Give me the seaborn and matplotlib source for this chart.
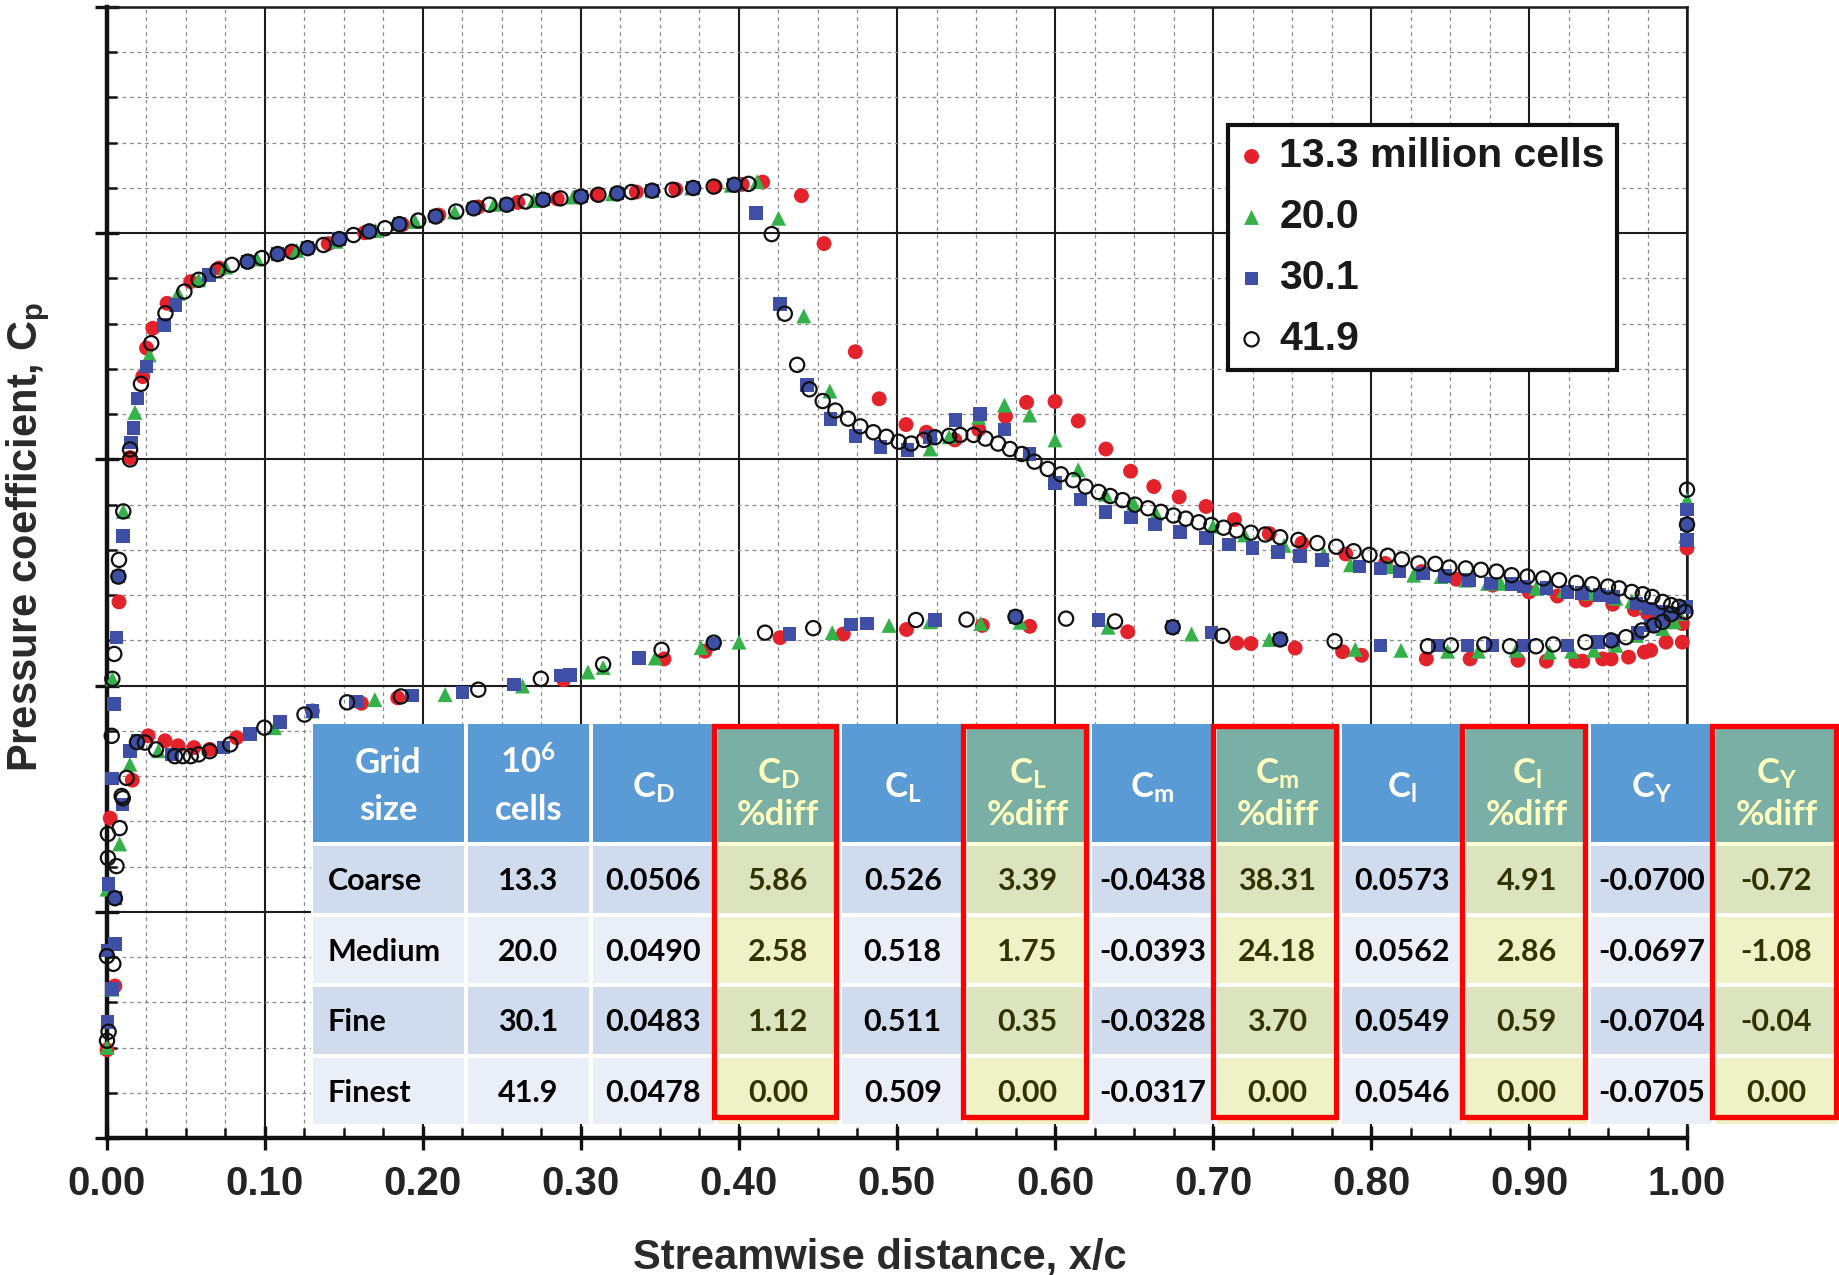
import numpy as np
import pandas as pd
import matplotlib
matplotlib.use("Agg")
import matplotlib.pyplot as plt
from matplotlib.patches import Rectangle
from matplotlib.ticker import MultipleLocator, FormatStrFormatter
import seaborn as sns

# ---------------------------------------------------------------------------
# Surface pressure distributions, (x/c, Cp) pairs for each grid
# ---------------------------------------------------------------------------
upper_133 = [
    (0.0, 0.805), (0.005, 0.664), (0.0076, -0.185), (0.0146, -0.504),
    (0.0226, -0.683), (0.025, -0.746), (0.029, -0.790), (0.038, -0.845),
    (0.053, -0.893), (0.071, -0.923), (0.090, -0.938), (0.117, -0.959),
    (0.140, -0.977), (0.163, -1.001), (0.187, -1.019), (0.210, -1.040),
    (0.235, -1.058), (0.260, -1.068), (0.285, -1.076), (0.310, -1.085),
    (0.335, -1.091), (0.360, -1.097), (0.385, -1.103), (0.402, -1.108),
    (0.415, -1.113), (0.4395, -1.083), (0.4538, -0.977), (0.4736, -0.738),
    (0.4887, -0.634), (0.5057, -0.577), (0.5186, -0.560), (0.5366, -0.543),
    (0.5517, -0.566), (0.5687, -0.595), (0.582, -0.626), (0.600, -0.628),
    (0.6147, -0.585), (0.6322, -0.523), (0.6478, -0.474), (0.6625, -0.440),
    (0.6786, -0.417), (0.6956, -0.396), (0.7136, -0.367), (0.7356, -0.336),
    (0.7563, -0.315), (0.784, -0.291), (0.809, -0.270), (0.832, -0.252),
    (0.854, -0.235), (0.877, -0.222), (0.900, -0.207), (0.918, -0.198),
    (0.936, -0.189), (0.953, -0.180), (0.9667, -0.168), (0.975, -0.159),
    (0.982, -0.156), (0.990, -0.141), (0.997, -0.137), (1.0, -0.304),
]
lower_133 = [
    (0.002, 0.293), (0.016, 0.209), (0.026, 0.111), (0.0367, 0.122),
    (0.045, 0.133), (0.055, 0.137), (0.065, 0.141), (0.082, 0.115),
    (0.130, 0.056), (0.161, 0.039), (0.184, 0.027), (0.289, -0.013),
    (0.3525, -0.059), (0.3785, -0.076), (0.426, -0.106), (0.466, -0.114),
    (0.506, -0.124), (0.554, -0.133), (0.584, -0.131), (0.646, -0.119),
    (0.715, -0.094), (0.724, -0.093), (0.752, -0.083), (0.782, -0.075),
    (0.794, -0.067), (0.835, -0.059), (0.8627, -0.059), (0.893, -0.056),
    (0.911, -0.054), (0.9297, -0.054), (0.934, -0.054), (0.9466, -0.059),
    (0.952, -0.059), (0.963, -0.063), (0.973, -0.074), (0.977, -0.078),
    (0.9867, -0.096), (0.997, -0.096),
]

upper_200 = [
    (0.0, 0.800), (0.0, 0.450), (0.003, 0.671), (0.0034, -0.015),
    (0.008, 0.350), (0.0103, -0.385), (0.0177, -0.604), (0.0268, -0.731),
    (0.045, -0.867), (0.058, -0.897), (0.075, -0.925), (0.095, -0.943),
    (0.120, -0.962), (0.145, -0.982), (0.170, -1.006), (0.195, -1.026),
    (0.220, -1.047), (0.245, -1.064), (0.270, -1.072), (0.295, -1.080),
    (0.320, -1.087), (0.345, -1.094), (0.370, -1.100), (0.395, -1.106),
    (0.4115, -1.114), (0.425, -1.033), (0.441, -0.817), (0.4575, -0.651),
    (0.521, -0.523), (0.533, -0.550), (0.5517, -0.593), (0.568, -0.620),
    (0.584, -0.598), (0.600, -0.543), (0.6147, -0.477), (0.632, -0.423),
    (0.6497, -0.403), (0.664, -0.380), (0.700, -0.352), (0.720, -0.333),
    (0.745, -0.310), (0.770, -0.290), (0.787, -0.267), (0.8116, -0.263),
    (0.827, -0.244), (0.8443, -0.241), (0.860, -0.233), (0.8738, -0.226),
    (0.882, -0.226), (0.9044, -0.215), (0.922, -0.210), (0.938, -0.204),
    (0.955, -0.193), (0.965, -0.187), (0.974, -0.178), (0.987, -0.159),
    (0.995, -0.159), (0.999, -0.330), (1.0, -0.411),
]
lower_200 = [
    (0.0145, 0.174), (0.0325, 0.144), (0.106, 0.093), (0.130, 0.056),
    (0.1695, 0.031), (0.214, 0.020), (0.263, 0.001), (0.3044, -0.030),
    (0.314, -0.040), (0.347, -0.061), (0.376, -0.084), (0.400, -0.096),
    (0.459, -0.117), (0.495, -0.133), (0.521, -0.141), (0.553, -0.137),
    (0.578, -0.140), (0.6336, -0.129), (0.6864, -0.114), (0.7356, -0.102),
    (0.790, -0.080), (0.819, -0.078), (0.8485, -0.076), (0.868, -0.076),
    (0.8918, -0.078), (0.9129, -0.074), (0.927, -0.076), (0.941, -0.078),
    (0.955, -0.089), (0.968, -0.111), (0.9846, -0.126), (0.992, -0.141),
]

upper_301 = [
    (0.0004, 0.743), (0.0004, 0.586), (0.001, 0.439), (0.003, 0.671),
    (0.005, 0.571), (0.005, 0.470), (0.0046, 0.041), (0.006, -0.106),
    (0.0072, -0.241), (0.0103, -0.331), (0.0152, -0.537), (0.0167, -0.570),
    (0.0194, -0.635), (0.025, -0.705), (0.036, -0.797), (0.0435, -0.841),
    (0.0645, -0.908), (0.089, -0.937), (0.108, -0.954), (0.127, -0.967),
    (0.147, -0.987), (0.166, -1.004), (0.185, -1.020), (0.208, -1.037),
    (0.232, -1.055), (0.253, -1.063), (0.276, -1.074), (0.300, -1.081),
    (0.323, -1.088), (0.345, -1.094), (0.371, -1.100), (0.397, -1.107),
    (0.4106, -1.045), (0.426, -0.844), (0.443, -0.665), (0.458, -0.589),
    (0.4736, -0.552), (0.4897, -0.527), (0.5067, -0.521), (0.521, -0.550),
    (0.537, -0.587), (0.5526, -0.600), (0.568, -0.566), (0.584, -0.512),
    (0.600, -0.448), (0.616, -0.411), (0.632, -0.384), (0.648, -0.372),
    (0.6634, -0.356), (0.679, -0.340), (0.6956, -0.326), (0.710, -0.312),
    (0.725, -0.304), (0.741, -0.295), (0.755, -0.287), (0.769, -0.278),
    (0.7926, -0.263), (0.806, -0.259), (0.818, -0.252), (0.833, -0.248),
    (0.847, -0.242), (0.862, -0.233), (0.876, -0.226), (0.889, -0.224),
    (0.897, -0.219), (0.911, -0.216), (0.9245, -0.207), (0.9335, -0.205),
    (0.9445, -0.200), (0.953, -0.196), (0.968, -0.181), (0.976, -0.170),
    (0.9846, -0.163), (0.992, -0.159), (0.9994, -0.174), (1.0, -0.389),
    (1.0, -0.356), (1.0, -0.322),
]
lower_301 = [
    (0.003, 0.205), (0.0097, 0.263), (0.0146, 0.144), (0.0194, 0.122),
    (0.041, 0.152), (0.0736, 0.137), (0.0905, 0.107), (0.1095, 0.081),
    (0.130, 0.056), (0.1575, 0.035), (0.193, 0.022), (0.225, 0.015),
    (0.2576, -0.002), (0.287, -0.022), (0.293, -0.024), (0.3367, -0.061),
    (0.384, -0.093), (0.432, -0.114), (0.471, -0.135), (0.481, -0.137),
    (0.524, -0.145), (0.575, -0.152), (0.6276, -0.145), (0.6745, -0.129),
    (0.699, -0.117), (0.7425, -0.102), (0.806, -0.089), (0.842, -0.089),
    (0.861, -0.089), (0.877, -0.089), (0.897, -0.089), (0.9245, -0.089),
    (0.9435, -0.096), (0.953, -0.100), (0.9688, -0.116), (0.977, -0.133),
    (0.9835, -0.144), (0.990, -0.159),
]

upper_419 = [
    (0.0, 0.785), (0.001, 0.765), (0.004, 0.615), (0.0, 0.598),
    (0.005, 0.470), (0.006, 0.399), (0.0006, 0.381), (0.0006, 0.328),
    (0.008, 0.315), (0.010, 0.249), (0.0093, 0.244), (0.0124, 0.204),
    (0.003, 0.111), (0.0034, -0.015), (0.0046, -0.070), (0.0072, -0.241),
    (0.0076, -0.278), (0.0103, -0.385), (0.0146, -0.500), (0.0146, -0.522),
    (0.0215, -0.667), (0.028, -0.757), (0.037, -0.823), (0.049, -0.871),
    (0.058, -0.897), (0.070, -0.918), (0.079, -0.930), (0.089, -0.937),
    (0.098, -0.945), (0.108, -0.954), (0.117, -0.959), (0.127, -0.967),
    (0.137, -0.974), (0.147, -0.987), (0.156, -0.996), (0.166, -1.004),
    (0.176, -1.011), (0.185, -1.020), (0.197, -1.028), (0.208, -1.037),
    (0.221, -1.048), (0.232, -1.055), (0.242, -1.063), (0.253, -1.063),
    (0.265, -1.070), (0.276, -1.074), (0.287, -1.077), (0.300, -1.081),
    (0.311, -1.085), (0.323, -1.088), (0.332, -1.091), (0.345, -1.094),
    (0.358, -1.096), (0.371, -1.100), (0.384, -1.103), (0.397, -1.107),
    (0.406, -1.109), (0.4207, -0.998), (0.429, -0.822), (0.4368, -0.709),
    (0.4446, -0.655), (0.453, -0.629), (0.461, -0.608), (0.469, -0.590),
    (0.4768, -0.573), (0.485, -0.560), (0.4933, -0.550), (0.501, -0.539),
    (0.509, -0.535), (0.517, -0.543), (0.524, -0.549), (0.533, -0.552),
    (0.540, -0.554), (0.5485, -0.554), (0.556, -0.546), (0.564, -0.535),
    (0.5715, -0.523), (0.579, -0.512), (0.587, -0.495), (0.5954, -0.479),
    (0.6037, -0.467), (0.6115, -0.454), (0.6193, -0.440), (0.6276, -0.428),
    (0.635, -0.419), (0.6428, -0.410), (0.6506, -0.400), (0.6589, -0.392),
    (0.667, -0.384), (0.675, -0.376), (0.6828, -0.369), (0.691, -0.361),
    (0.699, -0.355), (0.7067, -0.349), (0.715, -0.343), (0.724, -0.338),
    (0.733, -0.334), (0.7425, -0.328), (0.754, -0.322), (0.766, -0.315),
    (0.778, -0.307), (0.789, -0.297), (0.799, -0.289), (0.8106, -0.287),
    (0.8196, -0.279), (0.830, -0.270), (0.8407, -0.269), (0.8496, -0.261),
    (0.860, -0.259), (0.8696, -0.256), (0.8795, -0.252), (0.889, -0.244),
    (0.899, -0.241), (0.909, -0.237), (0.919, -0.233), (0.930, -0.227),
    (0.940, -0.224), (0.950, -0.219), (0.957, -0.215), (0.965, -0.207),
    (0.972, -0.202), (0.978, -0.196), (0.9846, -0.185), (0.990, -0.178),
    (0.995, -0.174), (1.0, -0.433), (1.0, -0.356),
]
lower_419 = [
    (0.019, 0.125), (0.024, 0.126), (0.031, 0.141), (0.043, 0.156),
    (0.048, 0.156), (0.053, 0.156), (0.058, 0.152), (0.065, 0.145),
    (0.078, 0.130), (0.0996, 0.093), (0.125, 0.064), (0.152, 0.037),
    (0.186, 0.024), (0.235, 0.009), (0.2746, -0.015), (0.314, -0.047),
    (0.351, -0.079), (0.384, -0.095), (0.4165, -0.117), (0.447, -0.127),
    (0.512, -0.145), (0.544, -0.146), (0.575, -0.152), (0.607, -0.148),
    (0.638, -0.142), (0.6745, -0.129), (0.706, -0.110), (0.7425, -0.102),
    (0.777, -0.098), (0.836, -0.087), (0.8506, -0.089), (0.8717, -0.091),
    (0.888, -0.087), (0.9044, -0.087), (0.9154, -0.091), (0.9357, -0.096),
    (0.9519, -0.100), (0.9614, -0.107), (0.9715, -0.122), (0.979, -0.133),
    (0.9846, -0.141), (0.990, -0.158), (0.999, -0.163),
]

grid_labels = ["13.3 million cells", "20.0", "30.1", "41.9"]

# ---------------------------------------------------------------------------
# Force and moment coefficients for the grid study
# ---------------------------------------------------------------------------
grid_names = ["Coarse", "Medium", "Fine", "Finest"]
cells_million = [13.3, 20.0, 30.1, 41.9]
cd = [0.0506, 0.0490, 0.0483, 0.0478]
cd_diff = [5.86, 2.58, 1.12, 0.00]
cl = [0.526, 0.518, 0.511, 0.509]
cl_diff = [3.39, 1.75, 0.35, 0.00]
cm = [-0.0438, -0.0393, -0.0328, -0.0317]
cm_diff = [38.31, 24.18, 3.70, 0.00]
croll = [0.0573, 0.0562, 0.0549, 0.0546]
croll_diff = [4.91, 2.86, 0.59, 0.00]
cy = [-0.0700, -0.0697, -0.0704, -0.0705]
cy_diff = [-0.72, -1.08, -0.04, 0.00]

# ---------------------------------------------------------------------------
sns.set_theme(style="white")
plt.rcParams["font.family"] = ["Liberation Sans", "DejaVu Sans"]
plt.rcParams["font.weight"] = "bold"
plt.rcParams["axes.labelweight"] = "bold"
plt.rcParams["mathtext.fontset"] = "custom"
plt.rcParams["mathtext.rm"] = "Lato"
plt.rcParams["mathtext.bf"] = "Lato:bold"
plt.rcParams["mathtext.it"] = "Lato:italic"


def surface_frame(points, label):
    arr = np.asarray(points, dtype=float)
    return pd.DataFrame({"x": arr[:, 0], "Cp": arr[:, 1], "grid": label})


cp_data = pd.concat([
    surface_frame(upper_133 + lower_133, grid_labels[0]),
    surface_frame(upper_200 + lower_200, grid_labels[1]),
    surface_frame(upper_301 + lower_301, grid_labels[2]),
    surface_frame(upper_419 + lower_419, grid_labels[3]),
], ignore_index=True)

fig = plt.figure(figsize=(18.39, 12.75), dpi=100)
ax = fig.add_axes([0.05818, 0.10745, 0.85917, 0.88706])
ax.set_facecolor("white")

marker_styles = {
    grid_labels[0]: dict(marker="o", color="#E3222B", s=115, edgecolor="none", linewidth=0),
    grid_labels[1]: dict(marker="^", color="#34B149", s=115, edgecolor="none", linewidth=0),
    grid_labels[2]: dict(marker="s", color="#3F4FA5", s=95, edgecolor="none", linewidth=0),
    grid_labels[3]: dict(marker="o", facecolor="none", edgecolor="#111111", s=105, linewidth=1.6),
}

for label in grid_labels:
    sub = cp_data[cp_data["grid"] == label]
    sns.scatterplot(data=sub, x="x", y="Cp", ax=ax, label=label,
                    clip_on=False, zorder=3, **marker_styles[label])

ax.set_xlim(0.0, 1.0)
ax.set_ylim(1.0, -1.5)

ax.xaxis.set_major_locator(MultipleLocator(0.1))
ax.xaxis.set_minor_locator(MultipleLocator(0.025))
ax.yaxis.set_major_locator(MultipleLocator(0.5))
ax.yaxis.set_minor_locator(MultipleLocator(0.1))
ax.xaxis.set_major_formatter(FormatStrFormatter("%.2f"))

ax.set_axisbelow(True)
ax.grid(True, which="major", color="#1c1c1c", linewidth=1.5, linestyle="-")
ax.grid(True, which="minor", color="#8a8a8a", linewidth=0.9, linestyle=(0, (3, 3)))

ax.tick_params(axis="both", which="major", direction="inout", length=17,
               width=2.4, color="#111111", bottom=True, left=True,
               top=False, right=False)
ax.tick_params(axis="both", which="minor", direction="in", length=7,
               width=1.8, color="#111111", bottom=True, left=True,
               top=False, right=False)
ax.tick_params(axis="x", which="major", labelsize=29, pad=11, labelcolor="#242424")
ax.tick_params(axis="y", which="both", labelleft=False)

for side in ("left", "bottom"):
    ax.spines[side].set_linewidth(3.2)
    ax.spines[side].set_color("#111111")
for side in ("top", "right"):
    ax.spines[side].set_linewidth(1.8)
    ax.spines[side].set_color("#1c1c1c")

ax.set_xlabel("Streamwise distance, x/c", fontsize=30, fontweight="bold", color="#2a2a2a")
ax.set_ylabel(r"Pressure coefficient, C$_{\mathregular{p}}$", fontsize=30,
              fontweight="bold", color="#2a2a2a")
ax.xaxis.set_label_coords(0.489, -0.088)
ax.yaxis.set_label_coords(-0.0348, 0.531)

leg = ax.legend(loc="upper left", bbox_to_anchor=(0.7095, 0.8957),
                borderaxespad=0, frameon=True, fancybox=False, framealpha=1,
                edgecolor="#111111", prop={"size": 29.5, "weight": "bold"},
                handlelength=0.55, handletextpad=0.4, borderpad=0.3,
                labelspacing=0.56, markerscale=1.0)
leg.get_frame().set_linewidth(3.0)
for txt in leg.get_texts():
    txt.set_color("#1a1a1a")

# ---------------------------------------------------------------------------
# Grid-convergence table
# ---------------------------------------------------------------------------
tax = fig.add_axes([311 / 1839, 1 - 1124 / 1275, 1528 / 1839, 400 / 1275])
tax.set_xlim(0, 1528)
tax.set_ylim(400, 0)
tax.axis("off")

col_widths = [155] + [124.8] * 11
col_edges = np.concatenate([[0], np.cumsum(col_widths)])
header_h = 118
row_gap = 4
row_h = 66.5
row_tops = [header_h + row_gap + i * (row_h + row_gap) for i in range(4)]

header_blue = "#5B9BD5"
header_teal = "#79AFA5"
row_fill = ["#D0DBEE", "#E9EEF7"]
diff_fill = ["#DCE3BF", "#EFF2C6"]
diff_text = "#333300"
diff_head_text = "#FFFFC0"

tax.add_patch(Rectangle((0, 0), 1528, 400, facecolor="white", edgecolor="none", zorder=0))

body_font = dict(fontsize=22, fontweight="bold", family=["Lato", "DejaVu Sans"])
head_font = dict(fontsize=25, fontweight="bold", family=["Lato", "DejaVu Sans"])

columns = [
    ("Grid", "size", grid_names, None, False),
    (r"10$^{\mathbf{6}}$", "cells", cells_million, "{:.1f}", False),
    (None, r"C$_{\mathbf{D}}$", cd, "{:.4f}", False),
    (r"C$_{\mathbf{D}}$", "%diff", cd_diff, "{:.2f}", True),
    (None, r"C$_{\mathbf{L}}$", cl, "{:.3f}", False),
    (r"C$_{\mathbf{L}}$", "%diff", cl_diff, "{:.2f}", True),
    (None, r"C$_{\mathbf{m}}$", cm, "{:.4f}", False),
    (r"C$_{\mathbf{m}}$", "%diff", cm_diff, "{:.2f}", True),
    (None, r"C$_{\mathbf{l}}$", croll, "{:.4f}", False),
    (r"C$_{\mathbf{l}}$", "%diff", croll_diff, "{:.2f}", True),
    (None, r"C$_{\mathbf{Y}}$", cy, "{:.4f}", False),
    (r"C$_{\mathbf{Y}}$", "%diff", cy_diff, "{:.2f}", True),
]

for j, (line1, line2, values, fmt, is_diff) in enumerate(columns):
    x0, x1 = col_edges[j] + 2, col_edges[j + 1] - 2
    xc = 0.5 * (col_edges[j] + col_edges[j + 1])
    head_color = header_teal if is_diff else header_blue
    tcolor = diff_head_text if is_diff else "white"
    tax.add_patch(Rectangle((x0, 0), x1 - x0, header_h, facecolor=head_color,
                            edgecolor="none", zorder=1))
    if is_diff:
        tax.add_patch(Rectangle((x0, header_h), x1 - x0, row_gap,
                                facecolor="#FFFFD6", edgecolor="none", zorder=1))
        tax.text(xc, 60, line1, ha="center", va="baseline", color=tcolor, **head_font)
        tax.text(xc, 101, line2, ha="center", va="baseline", color=tcolor, **head_font)
    elif line1 is None:
        tax.text(xc, 74, line2, ha="center", va="baseline", color=tcolor, **head_font)
    else:
        tax.text(xc, 49, line1, ha="center", va="baseline", color=tcolor, **head_font)
        tax.text(xc, 96, line2, ha="center", va="baseline", color=tcolor, **head_font)

    for i, val in enumerate(values):
        top = row_tops[i]
        fill = diff_fill[i % 2] if is_diff else row_fill[i % 2]
        tax.add_patch(Rectangle((x0, top), x1 - x0, row_h, facecolor=fill,
                                edgecolor="none", zorder=1))
        label = val if fmt is None else fmt.format(val)
        color = diff_text if is_diff else "black"
        if j == 0:
            tax.text(col_edges[j] + 17, top + row_h / 2 + 11, label, ha="left",
                     va="baseline", color=color, **body_font)
        else:
            tax.text(xc, top + row_h / 2 + 11, label, ha="center",
                     va="baseline", color=color, **body_font)

    if is_diff:
        right = col_edges[j + 1] - 4 if j < len(columns) - 1 else 1525
        tax.add_patch(Rectangle((col_edges[j] - 2, 1.5), right - (col_edges[j] - 2),
                                391, facecolor="none", edgecolor="#FF0000",
                                linewidth=3.8, zorder=5, clip_on=False))

fig.savefig("out.png", dpi=100)
